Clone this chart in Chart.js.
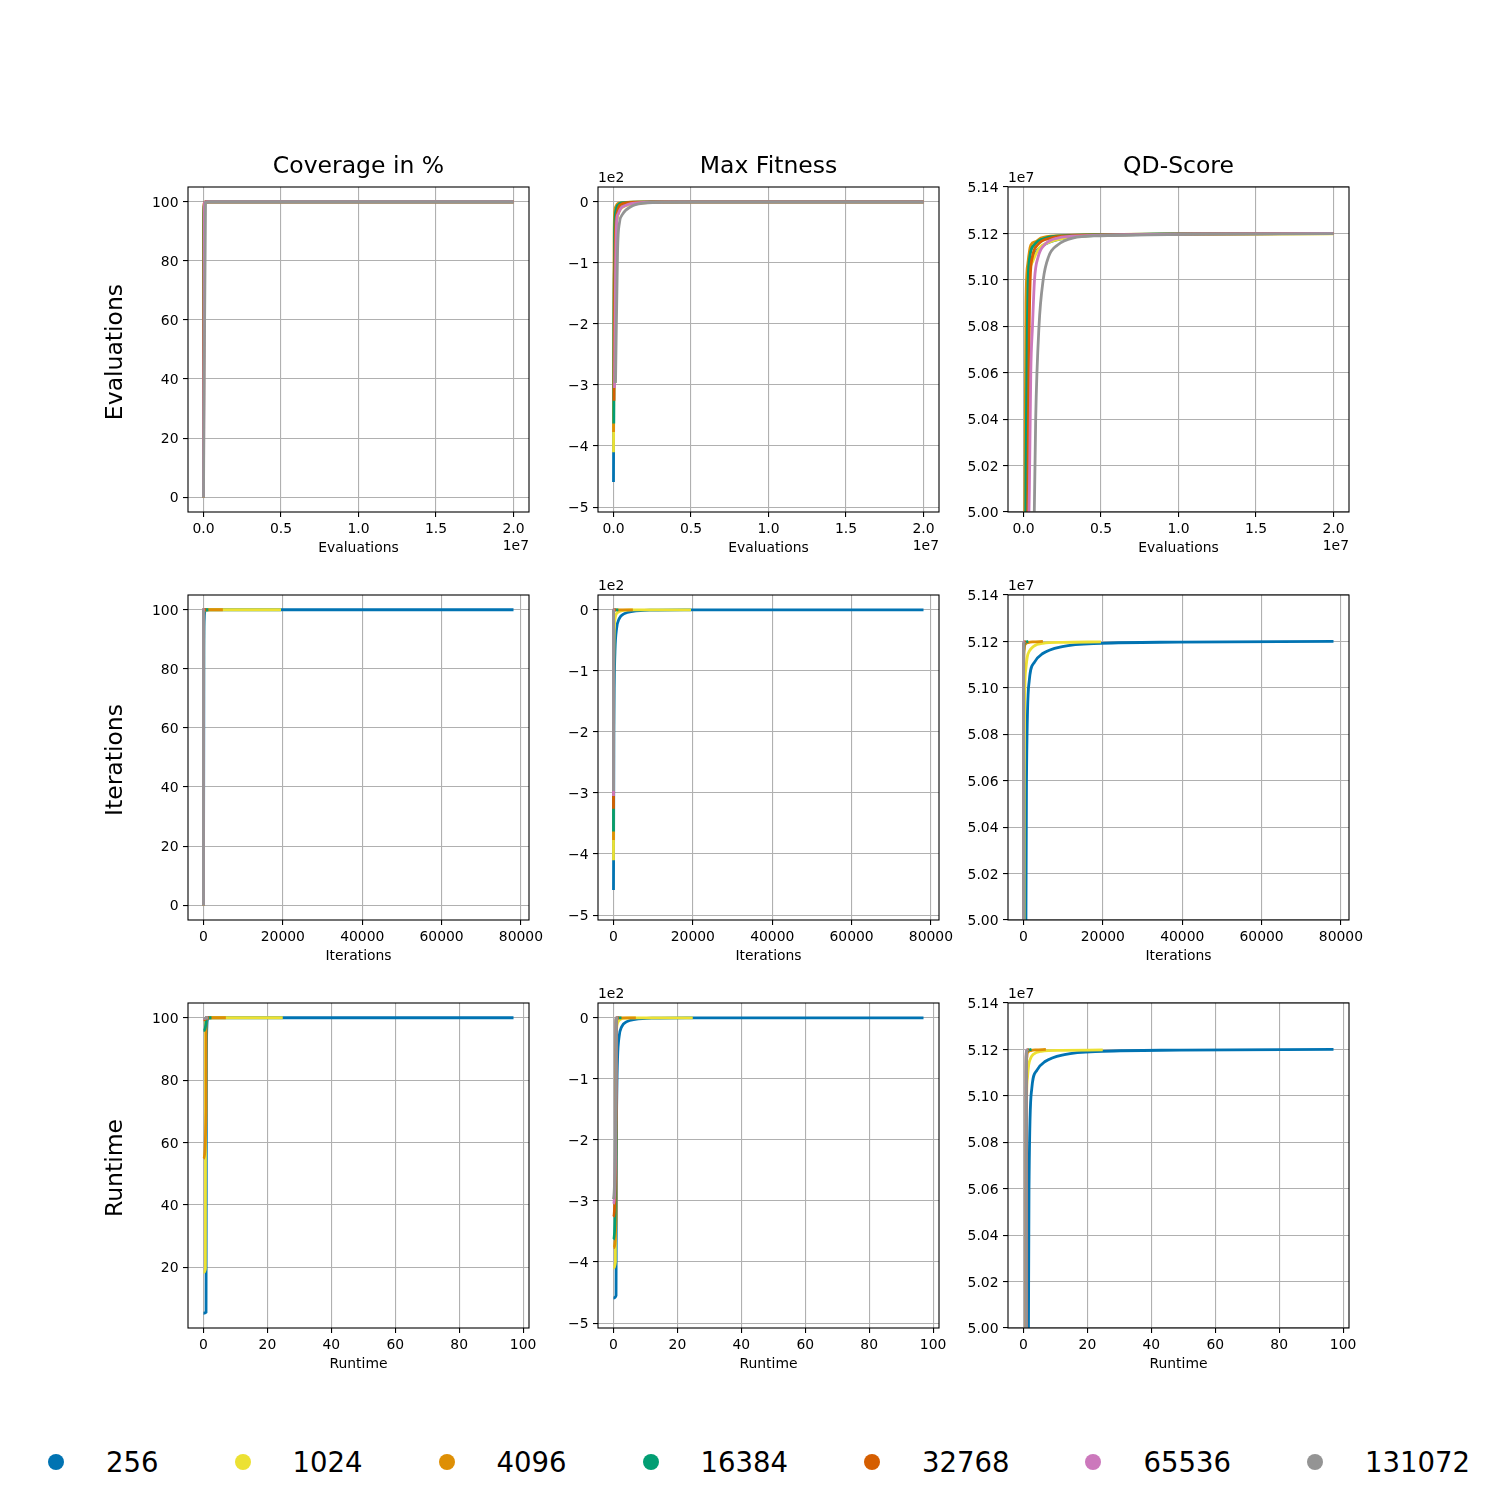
<!DOCTYPE html>
<html>
<head>
<meta charset="utf-8">
<title>Batch size comparison</title>
<script src="https://cdn.jsdelivr.net/npm/chart.js@4.4.1/dist/chart.umd.min.js"></script>
<style>
  body { margin: 0; background: #fff; }
  #page { position: relative; width: 1500px; height: 1500px; overflow: hidden; font-family: 'DejaVu Sans', sans-serif; color: #000; }
  #page canvas { position: absolute; }
  .txt { position: absolute; white-space: nowrap; line-height: 1; }
  .center { transform: translate(-50%, -50%); }
  .title { font-size: 23.5px; }
  .rowlabel { font-size: 23.5px; transform: translate(-50%, -50%) rotate(-90deg); }
  .small { font-size: 13.9px; }
  #legend { position: absolute; left: 48px; top: 1462px; transform: translateY(-50%); display: flex; align-items: center; gap: 76px; font-size: 27.5px; }
  .item { display: flex; align-items: center; gap: 42px; }
  .dot { width: 16px; height: 16px; border-radius: 50%; }
</style>
</head>
<body>
<div id="page"></div>
<script>
// ---- data ----
const BATCH_SIZES = [256, 1024, 4096, 16384, 32768, 65536, 131072];
const SERIES_COLORS = ['#0173b2', '#ece133', '#de8f05', '#029e73', '#d55e00', '#cc78bc', '#949494'];

// evaluations at which each run was sampled (first entry = before the first iteration)
const EVALUATIONS = [
    [0, 256, 512, 25600, 51200, 1.0e5, 2.0e5, 3.7e5, 7.0e5, 1.24e6, 2.5e6, 5.0e6, 1.0e7, 2.0e7],
    [0, 1024, 2048, 51200, 102400, 2.0e5, 3.5e5, 6.0e5, 1.0e6, 1.5e6, 2.5e6, 5.0e6, 1.0e7, 2.0e7],
    [0, 4096, 8192, 40960, 81920, 1.6e5, 2.8e5, 4.7e5, 8.0e5, 1.12e6, 2.3e6, 5.0e6, 1.0e7, 2.0e7],
    [0, 16384, 32768, 65536, 1.15e5, 1.64e5, 2.46e5, 3.0e5, 4.1e5, 6.9e5, 1.44e6, 2.7e6, 5.5e6, 1.0e7, 2.0e7],
    [0, 32768, 65536, 1.31e5, 2.6e5, 3.7e5, 4.3e5, 5.8e5, 9.0e5, 1.76e6, 3.2e6, 6.0e6, 1.0e7, 2.0e7],
    [0, 65536, 131072, 2.1e5, 3.0e5, 3.8e5, 4.7e5, 5.8e5, 7.1e5, 9.5e5, 1.34e6, 2.2e6, 4.0e6, 7.0e6, 1.2e7, 2.0e7],
    [0, 131072, 262144, 393216, 524288, 655360, 786432, 1.0e6, 1.27e6, 1.62e6, 2.2e6, 3.17e6, 5.0e6, 8.0e6, 1.2e7, 2.0e7]
];

// wall-clock seconds at the same samples (nothing recorded before the first iteration)
const RUNTIME = [
    [null, 0, 0.8, 0.92, 1.05, 1.28, 1.76, 2.58, 4.17, 6.76, 12.8, 24.8, 48.9, 97.0],
    [null, 0, 0.6, 0.66, 0.72, 0.82, 0.98, 1.25, 1.65, 2.1, 3.0, 5.6, 11.9, 24.8],
    [null, 0, 0.8, 0.81, 0.82, 0.85, 0.88, 0.94, 1.04, 1.14, 1.5, 2.35, 3.9, 7.0],
    [null, 0, 0.8, 0.803, 0.807, 0.811, 0.818, 0.823, 0.832, 0.856, 0.92, 1.03, 1.27, 1.65, 2.5],
    [null, 0, 0.8, 0.803, 0.809, 0.814, 0.817, 0.824, 0.838, 0.878, 0.944, 1.07, 1.25, 1.71],
    [null, 0, 0.8, 0.802, 0.805, 0.807, 0.81, 0.813, 0.816, 0.823, 0.833, 0.857, 0.906, 0.99, 1.13, 1.35],
    [null, 0, 0.8, 0.805, 0.809, 0.814, 0.819, 0.826, 0.836, 0.849, 0.869, 0.903, 0.968, 1.074, 1.217, 1.5]
];

// coverage in %
const COVERAGE = [
    [0, 5.2, 5.5, 86, 97, 99.5, 99.9, 100, 100, 100, 100, 100, 100, 100],
    [0, 18.3, 19.5, 97, 99.6, 99.9, 100, 100, 100, 100, 100, 100, 100, 100],
    [0, 54.8, 70, 98, 99.7, 99.9, 100, 100, 100, 100, 100, 100, 100, 100],
    [0, 95.9, 98.5, 99.6, 99.9, 100, 100, 100, 100, 100, 100, 100, 100, 100, 100],
    [0, 99.3, 99.8, 100, 100, 100, 100, 100, 100, 100, 100, 100, 100, 100],
    [0, 99.7, 99.95, 100, 100, 100, 100, 100, 100, 100, 100, 100, 100, 100, 100, 100],
    [0, 99.8, 99.97, 100, 100, 100, 100, 100, 100, 100, 100, 100, 100, 100, 100, 100]
];

// best fitness found so far
const MAX_FITNESS = [
    [null, -459, -455, -200, -120, -65, -31, -14.7, -6.5, -2.7, -0.8, -0.4, -0.25, -0.2],
    [null, -410, -400, -130, -70, -33, -17, -9, -5, -3, -1.2, -0.4, -0.25, -0.2],
    [null, -377, -330, -60, -16, -7.5, -3.2, -1.8, -1.0, -0.7, -0.4, -0.3, -0.25, -0.2],
    [null, -363, -200, -60, -22, -14, -7, -5.5, -3, -1.5, -0.6, -0.35, -0.25, -0.22, -0.2],
    [null, -326, -160, -45, -16, -7, -5.5, -3.2, -1.5, -0.6, -0.35, -0.25, -0.22, -0.2],
    [null, -305, -120, -29, -20, -15, -11, -8.5, -7, -4.5, -2.5, -0.9, -0.4, -0.3, -0.22, -0.2],
    [null, -297, -80, -33, -23, -18, -14, -10, -6.3, -3.8, -1.8, -0.9, -0.5, -0.3, -0.25, -0.2]
];

const QD_SCORE = [
    [null, 2.0e6, 2.3e6, 4.0e7, 4.6e7, 4.9e7, 5.065e7, 5.103e7, 5.111e7, 5.1148e7, 5.1178e7, 5.1192e7, 5.1197e7, 5.12e7],
    [null, 7.0e6, 8.0e6, 4.6e7, 4.9e7, 5.06e7, 5.10e7, 5.108e7, 5.1135e7, 5.1158e7, 5.1178e7, 5.1192e7, 5.1196e7, 5.1198e7],
    [null, 2.3e7, 3.5e7, 4.9e7, 5.00e7, 5.09e7, 5.107e7, 5.115e7, 5.1165e7, 5.118e7, 5.119e7, 5.1195e7, 5.1198e7, 5.12e7],
    [null, 3.8e7, 4.4e7, 4.8e7, 4.95e7, 5.02e7, 5.08e7, 5.10e7, 5.11e7, 5.115e7, 5.118e7, 5.119e7, 5.1195e7, 5.1198e7, 5.12e7],
    [null, 4.2e7, 4.6e7, 4.85e7, 4.99e7, 5.08e7, 5.10e7, 5.11e7, 5.115e7, 5.118e7, 5.119e7, 5.1194e7, 5.1197e7, 5.12e7],
    [null, 4.4e7, 4.75e7, 4.92e7, 4.98e7, 5.01e7, 5.06e7, 5.08e7, 5.10e7, 5.11e7, 5.115e7, 5.118e7, 5.119e7, 5.1195e7, 5.1198e7, 5.12e7],
    [null, 4.0e7, 4.6e7, 4.82e7, 4.93e7, 4.98e7, 5.04e7, 5.08e7, 5.10e7, 5.11e7, 5.115e7, 5.118e7, 5.119e7, 5.1194e7, 5.1197e7, 5.1199e7]
];

// ---- ticks ----
const EVAL_TICKS = [0, 5e6, 1e7, 1.5e7, 2e7];
const EVAL_TICK_LABELS = ['0.0', '0.5', '1.0', '1.5', '2.0'];
const ITER_TICKS = [0, 20000, 40000, 60000, 80000];
const ITER_TICK_LABELS = ['0', '20000', '40000', '60000', '80000'];
const RUNTIME_TICKS = [0, 20, 40, 60, 80, 100];
const RUNTIME_TICK_LABELS = ['0', '20', '40', '60', '80', '100'];
const COVERAGE_TICKS = [0, 20, 40, 60, 80, 100];
const COVERAGE_TICK_LABELS = ['0', '20', '40', '60', '80', '100'];
const FITNESS_TICKS = [0, -100, -200, -300, -400, -500];
const FITNESS_TICK_LABELS = ['0', '\u22121', '\u22122', '\u22123', '\u22124', '\u22125'];
const QD_TICKS = [5.00e7, 5.02e7, 5.04e7, 5.06e7, 5.08e7, 5.10e7, 5.12e7, 5.14e7];
const QD_TICK_LABELS = ['5.00', '5.02', '5.04', '5.06', '5.08', '5.10', '5.12', '5.14'];

const COLUMN_TITLES = ['Coverage in %', 'Max Fitness', 'QD-Score'];
const ROW_TITLES = ['Evaluations', 'Iterations', 'Runtime'];

// ---- layout ----
const AXES_LEFT = [188, 598, 1008];
const AXES_TOP = [187, 595, 1003];
const AXES_W = 341;
const AXES_H = 325;
const PAD_L = 70, PAD_T = 40, PAD_R = 40, PAD_B = 50;
const FONT = "'DejaVu Sans', sans-serif";

const X_AXES = [
    { min: -1e6, max: 2.1e7, ticks: EVAL_TICKS, labels: EVAL_TICK_LABELS, offset: '1e7' },
    { min: -3906, max: 82031, ticks: ITER_TICKS, labels: ITER_TICK_LABELS },
    { min: -4.85, max: 101.85, ticks: RUNTIME_TICKS, labels: RUNTIME_TICK_LABELS }
];

// y axes per [row][column]
function yAxisFor(row, col) {
    if (col === 0) {
        const range = row === 2 ? [0.46, 104.74] : [-5, 105];
        return { min: range[0], max: range[1], ticks: COVERAGE_TICKS, labels: COVERAGE_TICK_LABELS };
    }
    if (col === 1) {
        return { min: -508, max: 24, ticks: FITNESS_TICKS, labels: FITNESS_TICK_LABELS, offset: '1e2' };
    }
    return { min: 5.0e7, max: 5.14e7, ticks: QD_TICKS, labels: QD_TICK_LABELS, offset: '1e7' };
}

const page = document.getElementById('page');

function addText(text, cls, left, top, extraStyle) {
    const d = document.createElement('div');
    d.className = 'txt ' + cls;
    d.textContent = text;
    d.style.left = left + 'px';
    d.style.top = top + 'px';
    if (extraStyle) Object.assign(d.style, extraStyle);
    page.appendChild(d);
    return d;
}

/**
 * Draws the four spines like a matplotlib axes box.
 */
const framePlugin = {
    id: 'frame',
    afterDatasetsDraw(chart) {
        const { ctx, chartArea: a } = chart;
        ctx.save();
        ctx.strokeStyle = '#000';
        ctx.lineWidth = 1.1;
        ctx.strokeRect(a.left, a.top, a.right - a.left, a.bottom - a.top);
        ctx.restore();
    }
};

function scaleOptions(axis, isX) {
    const shown = axis.ticks.filter(v => v >= axis.min && v <= axis.max);
    const shownLabels = shown.map(v => axis.labels[axis.ticks.indexOf(v)]);
    return {
        type: 'linear',
        min: axis.min,
        max: axis.max,
        afterBuildTicks: s => { s.ticks = shown.map(v => ({ value: v })); },
        afterFit: s => { if (isX) s.height = PAD_B; else s.width = PAD_L; },
        ticks: {
            callback: (v, i) => shownLabels[i],
            font: { family: FONT, size: 13.9 },
            color: '#000',
            padding: 4.5,
            labelOffset: isX ? 0 : 1.5,
            maxRotation: 0,
            autoSkip: false
        },
        grid: { color: '#b0b0b0', lineWidth: 1.1, drawTicks: true, tickLength: 5, tickColor: '#000', tickWidth: 1.1 },
        border: { display: false }
    };
}

function seriesPoints(i, metric, row) {
    const pts = [];
    EVALUATIONS[i].forEach((ev, j) => {
        const y = metric[i][j];
        let x;
        if (row === 0) x = ev;
        else if (row === 1) x = ev / BATCH_SIZES[i];
        else x = RUNTIME[i][j];
        if (x !== null && y !== null) pts.push({ x, y });
    });
    return pts;
}

const METRICS = [COVERAGE, MAX_FITNESS, QD_SCORE];

for (let row = 0; row < 3; row++) {
    for (let col = 0; col < 3; col++) {
        const canvas = document.createElement('canvas');
        canvas.width = PAD_L + AXES_W + PAD_R;
        canvas.height = PAD_T + AXES_H + PAD_B;
        canvas.style.left = (AXES_LEFT[col] - PAD_L) + 'px';
        canvas.style.top = (AXES_TOP[row] - PAD_T) + 'px';
        page.appendChild(canvas);

        const datasets = BATCH_SIZES.map((b, i) => ({
            label: String(b),
            data: seriesPoints(i, METRICS[col], row),
            borderColor: SERIES_COLORS[i],
            backgroundColor: SERIES_COLORS[i],
            borderWidth: 2.8,
            showLine: true,
            pointRadius: 0,
            cubicInterpolationMode: 'monotone',
            clip: 0,
            order: BATCH_SIZES.length - i
        }));

        const yAxis = yAxisFor(row, col);
        new Chart(canvas, {
            type: 'scatter',
            data: { datasets },
            options: {
                responsive: false,
                animation: false,
                devicePixelRatio: 1,
                events: [],
                layout: { padding: { left: 0, top: PAD_T, right: PAD_R, bottom: 0 } },
                plugins: { legend: { display: false }, tooltip: { enabled: false } },
                scales: { x: scaleOptions(X_AXES[row], true), y: scaleOptions(yAxis, false) }
            },
            plugins: [framePlugin]
        });

        const cx = AXES_LEFT[col] + AXES_W / 2;
        const bottom = AXES_TOP[row] + AXES_H;
        // x axis label
        addText(ROW_TITLES[row], 'small center', cx, bottom + 36);
        // scientific offset labels
        if (X_AXES[row].offset) {
            addText(X_AXES[row].offset, 'small', AXES_LEFT[col] + AXES_W, bottom + 34, { transform: 'translate(-100%, -50%)' });
        }
        if (yAxis.offset) {
            addText(yAxis.offset, 'small', AXES_LEFT[col], AXES_TOP[row] - 9, { transform: 'translateY(-50%)' });
        }
    }
}

// column titles and row labels
COLUMN_TITLES.forEach((t, col) => addText(t, 'title center', AXES_LEFT[col] + AXES_W / 2, 166));
ROW_TITLES.forEach((t, row) => addText(t, 'rowlabel', 115, AXES_TOP[row] + AXES_H / 2 + 2));

// legend
const legend = document.createElement('div');
legend.id = 'legend';
BATCH_SIZES.forEach((b, i) => {
    const item = document.createElement('div');
    item.className = 'item';
    const dot = document.createElement('div');
    dot.className = 'dot';
    dot.style.background = SERIES_COLORS[i];
    const label = document.createElement('span');
    label.textContent = String(b);
    item.appendChild(dot);
    item.appendChild(label);
    legend.appendChild(item);
});
page.appendChild(legend);
</script>
</body>
</html>
